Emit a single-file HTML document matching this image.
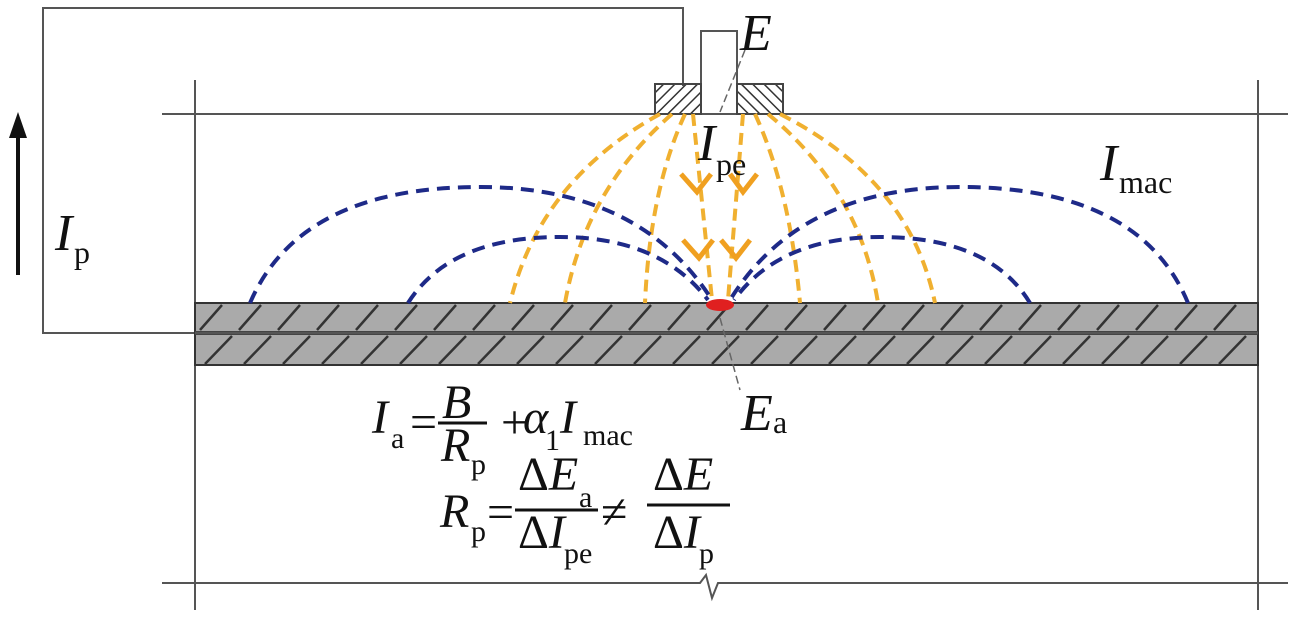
<!DOCTYPE html>
<html><head><meta charset="utf-8"><style>html,body{margin:0;padding:0;background:#fff}svg{display:block}</style></head><body>
<svg width="1297" height="621" viewBox="0 0 1297 621" xmlns="http://www.w3.org/2000/svg" font-family="Liberation Serif, serif">
<defs>
<pattern id="h1" width="8" height="8" patternUnits="userSpaceOnUse" patternTransform="rotate(45)"><line x1="0" y1="0" x2="0" y2="8" stroke="#333" stroke-width="3"/></pattern>
<pattern id="h2" width="8" height="8" patternUnits="userSpaceOnUse" patternTransform="rotate(-45)"><line x1="0" y1="0" x2="0" y2="8" stroke="#333" stroke-width="3"/></pattern>
</defs>
<g stroke="#555" stroke-width="2" fill="none">
<polyline points="195,333 43,333 43,8 683,8 683,86"/>
<line x1="162" y1="114" x2="1288" y2="114"/>
<polyline points="162,583 700,583 706,575 712,598 718,583 1288,583"/>
<line x1="195" y1="80" x2="195" y2="610"/>
<line x1="1258" y1="80" x2="1258" y2="610"/>
<rect x="701" y="31" width="36" height="83" fill="#fff"/>
</g>
<rect x="655" y="84" width="46" height="30" fill="url(#h1)" stroke="#444" stroke-width="2"/>
<rect x="737" y="84" width="46" height="30" fill="url(#h2)" stroke="#444" stroke-width="2"/>
<line x1="18" y1="275" x2="18" y2="135" stroke="#111" stroke-width="4"/>
<polygon points="18,112 9,138 27,138" fill="#111"/>
<rect x="195" y="303" width="1063" height="29" fill="#aaa" stroke="#333" stroke-width="2"/>
<rect x="195" y="334" width="1063" height="31" fill="#aaa" stroke="#333" stroke-width="2"/>
<line x1="195" y1="333" x2="1258" y2="333" stroke="#555" stroke-width="3"/>
<g stroke="#333" stroke-width="2.5">
<line x1="200" y1="330" x2="222" y2="305"/><line x1="239" y1="330" x2="261" y2="305"/><line x1="278" y1="330" x2="300" y2="305"/><line x1="317" y1="330" x2="339" y2="305"/><line x1="356" y1="330" x2="378" y2="305"/><line x1="395" y1="330" x2="417" y2="305"/><line x1="434" y1="330" x2="456" y2="305"/><line x1="473" y1="330" x2="495" y2="305"/><line x1="512" y1="330" x2="534" y2="305"/><line x1="551" y1="330" x2="573" y2="305"/><line x1="590" y1="330" x2="612" y2="305"/><line x1="629" y1="330" x2="651" y2="305"/><line x1="668" y1="330" x2="690" y2="305"/><line x1="707" y1="330" x2="729" y2="305"/><line x1="746" y1="330" x2="768" y2="305"/><line x1="785" y1="330" x2="807" y2="305"/><line x1="824" y1="330" x2="846" y2="305"/><line x1="863" y1="330" x2="885" y2="305"/><line x1="902" y1="330" x2="924" y2="305"/><line x1="941" y1="330" x2="963" y2="305"/><line x1="980" y1="330" x2="1002" y2="305"/><line x1="1019" y1="330" x2="1041" y2="305"/><line x1="1058" y1="330" x2="1080" y2="305"/><line x1="1097" y1="330" x2="1119" y2="305"/><line x1="1136" y1="330" x2="1158" y2="305"/><line x1="1175" y1="330" x2="1197" y2="305"/><line x1="1214" y1="330" x2="1236" y2="305"/>
<line x1="205" y1="364" x2="232" y2="336"/><line x1="244" y1="364" x2="271" y2="336"/><line x1="283" y1="364" x2="310" y2="336"/><line x1="322" y1="364" x2="349" y2="336"/><line x1="361" y1="364" x2="388" y2="336"/><line x1="400" y1="364" x2="427" y2="336"/><line x1="439" y1="364" x2="466" y2="336"/><line x1="478" y1="364" x2="505" y2="336"/><line x1="517" y1="364" x2="544" y2="336"/><line x1="556" y1="364" x2="583" y2="336"/><line x1="595" y1="364" x2="622" y2="336"/><line x1="634" y1="364" x2="661" y2="336"/><line x1="673" y1="364" x2="700" y2="336"/><line x1="712" y1="364" x2="739" y2="336"/><line x1="751" y1="364" x2="778" y2="336"/><line x1="790" y1="364" x2="817" y2="336"/><line x1="829" y1="364" x2="856" y2="336"/><line x1="868" y1="364" x2="895" y2="336"/><line x1="907" y1="364" x2="934" y2="336"/><line x1="946" y1="364" x2="973" y2="336"/><line x1="985" y1="364" x2="1012" y2="336"/><line x1="1024" y1="364" x2="1051" y2="336"/><line x1="1063" y1="364" x2="1090" y2="336"/><line x1="1102" y1="364" x2="1129" y2="336"/><line x1="1141" y1="364" x2="1168" y2="336"/><line x1="1180" y1="364" x2="1207" y2="336"/><line x1="1219" y1="364" x2="1246" y2="336"/>
</g>
<g stroke="#f0b030" stroke-width="4" stroke-dasharray="12,7" fill="none">
<path d="M660,114 Q540,180 510,303"/>
<path d="M672,114 Q585,190 565,303"/>
<path d="M685,114 Q650,190 645,303"/>
<path d="M693,114 L712,300"/>
<path d="M743,114 L728,300"/>
<path d="M755,114 Q790,190 800,303"/>
<path d="M768,114 Q860,190 878,303"/>
<path d="M780,114 Q910,180 935,303"/>
</g>
<g stroke="#f0a020" stroke-width="5" fill="none">
<path d="M681,174 L697,192 L711,174"/><path d="M730,174 L743,192 L757,174"/>
<path d="M683,240 L699,258 L713,240"/><path d="M721,240 L736,258 L750,240"/>
</g>
<g stroke="#1e2a88" stroke-width="4" stroke-dasharray="13,8" fill="none">
<path d="M250,303 Q300,187 480,187 Q640,187 712,300"/>
<path d="M408,303 Q450,237 560,237 Q660,237 708,300"/>
<path d="M1188,303 Q1140,187 960,187 Q800,187 730,300"/>
<path d="M1030,303 Q990,237 880,237 Q780,237 734,300"/>
</g>
<ellipse cx="720" cy="305" rx="14" ry="6" fill="#e02020"/>
<line x1="745" y1="50" x2="720" y2="112" stroke="#666" stroke-width="1.5" stroke-dasharray="8,4"/>
<line x1="720" y1="318" x2="740" y2="390" stroke="#666" stroke-width="1.5" stroke-dasharray="8,4"/>
<g font-size="52" fill="#111">
<text x="740" y="50" font-style="italic">E</text>
<text x="698" y="160" font-style="italic">I</text><text x="716" y="175" font-size="32">pe</text>
<text x="1100" y="180" font-style="italic">I</text><text x="1119" y="193" font-size="32">mac</text>
<text x="55" y="250" font-style="italic">I</text><text x="74" y="263" font-size="32">p</text>
<text x="741" y="430" font-style="italic">E</text><text x="773" y="433" font-size="32">a</text>
</g>
<g font-size="48" fill="#111">
<text x="372" y="433" font-style="italic">I</text><text x="391" y="448" font-size="30">a</text>
<text x="410" y="438">=</text>
<text x="442" y="418" font-style="italic">B</text>
<line x1="438" y1="423" x2="487" y2="423" stroke="#111" stroke-width="3"/>
<text x="441" y="461" font-style="italic">R</text><text x="471" y="474" font-size="30">p</text>
<text x="501" y="438">+</text><text x="523" y="433" font-style="italic">α</text><text x="545" y="450" font-size="30">1</text>
<text x="560" y="433" font-style="italic">I</text><text x="583" y="445" font-size="30">mac</text>
<text x="440" y="527" font-style="italic">R</text><text x="471" y="541" font-size="30">p</text>
<text x="487" y="528">=</text>
<text x="518" y="490">Δ<tspan font-style="italic">E</tspan></text><text x="579" y="507" font-size="30">a</text>
<line x1="515" y1="510" x2="598" y2="510" stroke="#111" stroke-width="3"/>
<text x="518" y="548">Δ<tspan font-style="italic">I</tspan></text><text x="564" y="563" font-size="30">pe</text>
<text x="601" y="528">≠</text>
<text x="653" y="490">Δ<tspan font-style="italic">E</tspan></text>
<line x1="647" y1="505" x2="730" y2="505" stroke="#111" stroke-width="3"/>
<text x="653" y="548">Δ<tspan font-style="italic">I</tspan></text><text x="699" y="563" font-size="30">p</text>
</g>
</svg>
</body></html>
